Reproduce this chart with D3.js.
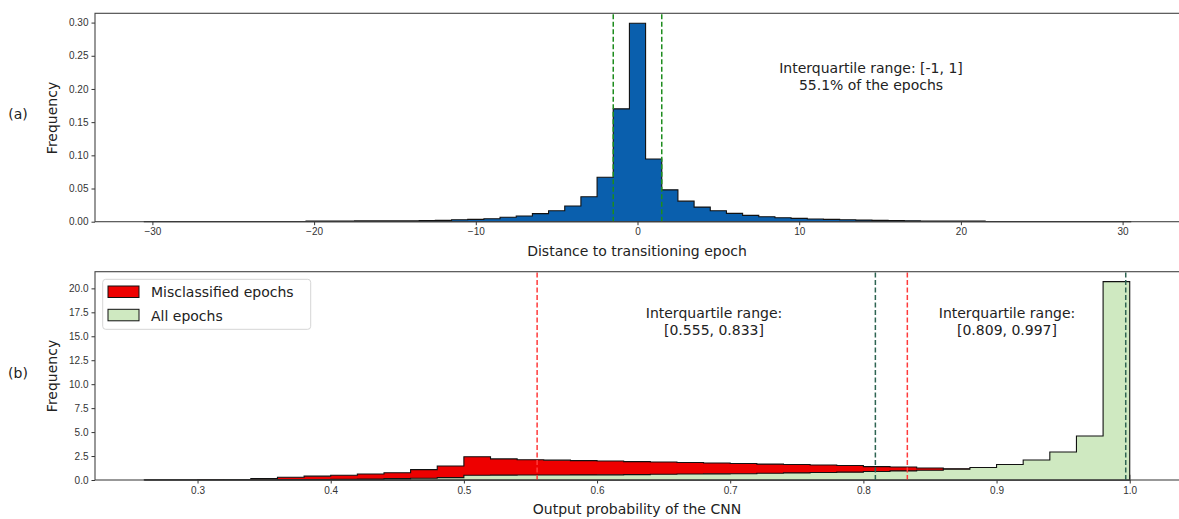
<!DOCTYPE html>
<html>
<head>
<meta charset="utf-8">
<script src="https://cdn.jsdelivr.net/npm/d3@7"></script>
<style>
  body { margin: 0; background: #fff; }
  svg { display: block; font-family: "DejaVu Sans", sans-serif; }
  .tick text { fill: #333; font-size: 10px; }
  .tick line { stroke: #333; }
  .domain { display: none; }
</style>
</head>
<body>
<svg id="chart" width="1179" height="519"></svg>
<script>
// panel (a): distance to transitioning epoch, one bin per integer
let distBins = d3.range(-30, 31);
let distFreq = [
  0.0003, 0.0003, 0.0003, 0.0003, 0.0003, 0.0003, 0.0003, 0.0003, 0.0003, 0.0003,
  0.0008, 0.0008, 0.0008,
  0.0012, 0.0012, 0.0012, 0.0012,
  0.0017, 0.002, 0.003, 0.0035, 0.0045, 0.0066, 0.0086, 0.0121, 0.0166, 0.0237,
  0.0377, 0.067, 0.170, 0.299, 0.0945, 0.048, 0.031, 0.022, 0.0166, 0.0126,
  0.0096, 0.0075, 0.006, 0.005, 0.004, 0.0035, 0.003, 0.0024, 0.002, 0.0017,
  0.0014, 0.0011, 0.001, 0.001, 0.0009,
  0.0003, 0.0003, 0.0003, 0.0003, 0.0003, 0.0003, 0.0003, 0.0003, 0.0003
];
let distIqrLines = [-1.5, 1.5];
let distTicks = [-30, -20, -10, 0, 10, 20, 30];

// panel (b): output probability, bins of 0.02 starting at 0.26
let probEdges = d3.range(37).map(i => +(0.26 + i * 0.02).toFixed(2));
let probMisclassified = [
  0.01, 0.01, 0.02, 0.06, 0.14, 0.28, 0.40, 0.50, 0.62, 0.75,
  1.08, 1.46, 2.42, 2.20, 2.12, 2.07, 2.02, 1.98, 1.92, 1.88,
  1.83, 1.78, 1.72, 1.66, 1.61, 1.57, 1.52, 1.40, 1.35, 1.25,
  1.18, 0.95, 0.80, 0.70, 0.60, 0.50, 0.50
];
let probAll = [
  0.0, 0.0, 0.01, 0.02, 0.03, 0.04, 0.05, 0.07, 0.09, 0.14,
  0.19, 0.25, 0.50, 0.51, 0.52, 0.52, 0.53, 0.54, 0.56, 0.60,
  0.62, 0.64, 0.66, 0.70, 0.74, 0.78, 0.82, 0.88, 0.95, 1.02,
  1.12, 1.30, 1.62, 2.08, 2.92, 4.60, 20.7
];
let misIqr = [0.555, 0.833];
let allIqr = [0.809, 0.997];
let probTicks = [0.3, 0.4, 0.5, 0.6, 0.7, 0.8, 0.9, 1.0];

let svg = d3.select('#chart');
let left = 95, right = 1180;

function stepPath(x, y, edges, values) {
  let pts = [[edges[0], 0]];
  values.forEach((v, i) => pts.push([edges[i], v]));
  pts.push([edges[edges.length - 1], values[values.length - 1]]);
  pts.push([edges[edges.length - 1], 0]);
  return d3.line()
    .x(d => x(d[0]))
    .y(d => y(d[1]))
    .curve(d3.curveStepAfter)(pts) + 'Z';
}

function frame(top, bottom) {
  svg.append('rect')
    .attr('x', left)
    .attr('y', top)
    .attr('width', right - left)
    .attr('height', bottom - top)
    .attr('fill', 'none')
    .attr('stroke', '#444')
    .attr('stroke-width', 1.1);
}

function vline(x, y, val, color) {
  svg.append('line')
    .attr('x1', x(val)).attr('x2', x(val))
    .attr('y1', y.range()[0]).attr('y2', y.range()[1])
    .attr('stroke', color)
    .attr('stroke-width', 1.5)
    .attr('stroke-dasharray', '5,2.5');
}

function label(text, x, y, size, rotate) {
  let t = svg.append('text')
    .text(text)
    .attr('text-anchor', 'middle')
    .attr('fill', '#222')
    .style('font-size', size + 'px');
  if (rotate) {
    t.attr('transform', `translate(${x},${y}) rotate(-90)`);
  } else {
    t.attr('x', x).attr('y', y);
  }
  return t;
}

// ---------- panel (a) ----------
let xa = d3.scaleLinear().domain([-33.55, 33.55]).range([left, right]);
let ya = d3.scaleLinear().domain([0, 0.314]).range([221.7, 13.3]);
let distEdges = distBins.map(d => d - 0.5).concat([30.5]);

svg.append('path')
  .attr('d', stepPath(xa, ya, distEdges, distFreq))
  .attr('fill', '#0a5fad')
  .attr('stroke', '#111')
  .attr('stroke-width', 1.1);

distIqrLines.forEach(v => vline(xa, ya, v, '#1e8c1e'));

svg.append('g')
  .attr('transform', 'translate(0,221.7)')
  .call(d3.axisBottom(xa).tickValues(distTicks).tickSize(3.5).tickPadding(3)
    .tickFormat(d => d3.format('d')(d).replace('-', '\u2212')));

svg.append('g')
  .attr('transform', `translate(${left},0)`)
  .call(d3.axisLeft(ya).tickValues(d3.range(0, 0.31, 0.05)).tickSize(3.5).tickPadding(3)
    .tickFormat(d3.format('.2f')));

frame(13.3, 221.7);

label('Interquartile range: [-1, 1]', 871, 73, 14);
label('55.1% of the epochs', 871, 90, 14);
label('Distance to transitioning epoch', 637, 256, 14);
label('Frequency', 57, 118, 14, true);
label('(a)', 18, 119, 14);

// ---------- panel (b) ----------
let xb = d3.scaleLinear().domain([0.223, 1.037]).range([left, 1179]);
let yb = d3.scaleLinear().domain([0, 21.74]).range([480, 271.7]);
let probAllEdges = probEdges.concat([1.0]);

svg.append('path')
  .attr('d', stepPath(xb, yb, probAllEdges, probMisclassified))
  .attr('fill', '#ee0000')
  .attr('stroke', '#111')
  .attr('stroke-width', 1.1);

svg.append('path')
  .attr('d', stepPath(xb, yb, probAllEdges, probAll))
  .attr('fill', '#cfe9c1')
  .attr('stroke', '#111')
  .attr('stroke-width', 1.1);

misIqr.forEach(v => vline(xb, yb, v, '#ff3b3b'));
allIqr.forEach(v => vline(xb, yb, v, '#2e6452'));

svg.append('g')
  .attr('transform', 'translate(0,480)')
  .call(d3.axisBottom(xb).tickValues(probTicks).tickSize(3.5).tickPadding(3)
    .tickFormat(d3.format('.1f')));

svg.append('g')
  .attr('transform', `translate(${left},0)`)
  .call(d3.axisLeft(yb).tickValues(d3.range(0, 20.1, 2.5)).tickSize(3.5).tickPadding(3)
    .tickFormat(d3.format('.1f')));

frame(271.7, 480);

label('Interquartile range:', 714, 318, 14);
label('[0.555, 0.833]', 714, 335, 14);
label('Interquartile range:', 1007, 318, 14);
label('[0.809, 0.997]', 1007, 335, 14);
label('Output probability of the CNN', 637, 514, 14);
label('Frequency', 57, 376, 14, true);
label('(b)', 18, 378, 14);

// legend
let legend = svg.append('g');
legend.append('rect')
  .attr('x', 102.7).attr('y', 279.3)
  .attr('width', 208).attr('height', 50)
  .attr('rx', 3)
  .attr('fill', 'rgba(255,255,255,0.8)')
  .attr('stroke', '#d5d5d5');

let legendItems = [
  { name: 'Misclassified epochs', color: '#ee0000' },
  { name: 'All epochs', color: '#cfe9c1' }
];

legendItems.forEach((d, i) => {
  let y0 = 286 + i * 23.3;
  legend.append('rect')
    .attr('x', 108).attr('y', y0)
    .attr('width', 31).attr('height', 11.5)
    .attr('fill', d.color)
    .attr('stroke', '#111');
  legend.append('text')
    .text(d.name)
    .attr('x', 151).attr('y', y0 + 11.3)
    .attr('fill', '#222')
    .style('font-size', '14px');
});
</script>
</body>
</html>
